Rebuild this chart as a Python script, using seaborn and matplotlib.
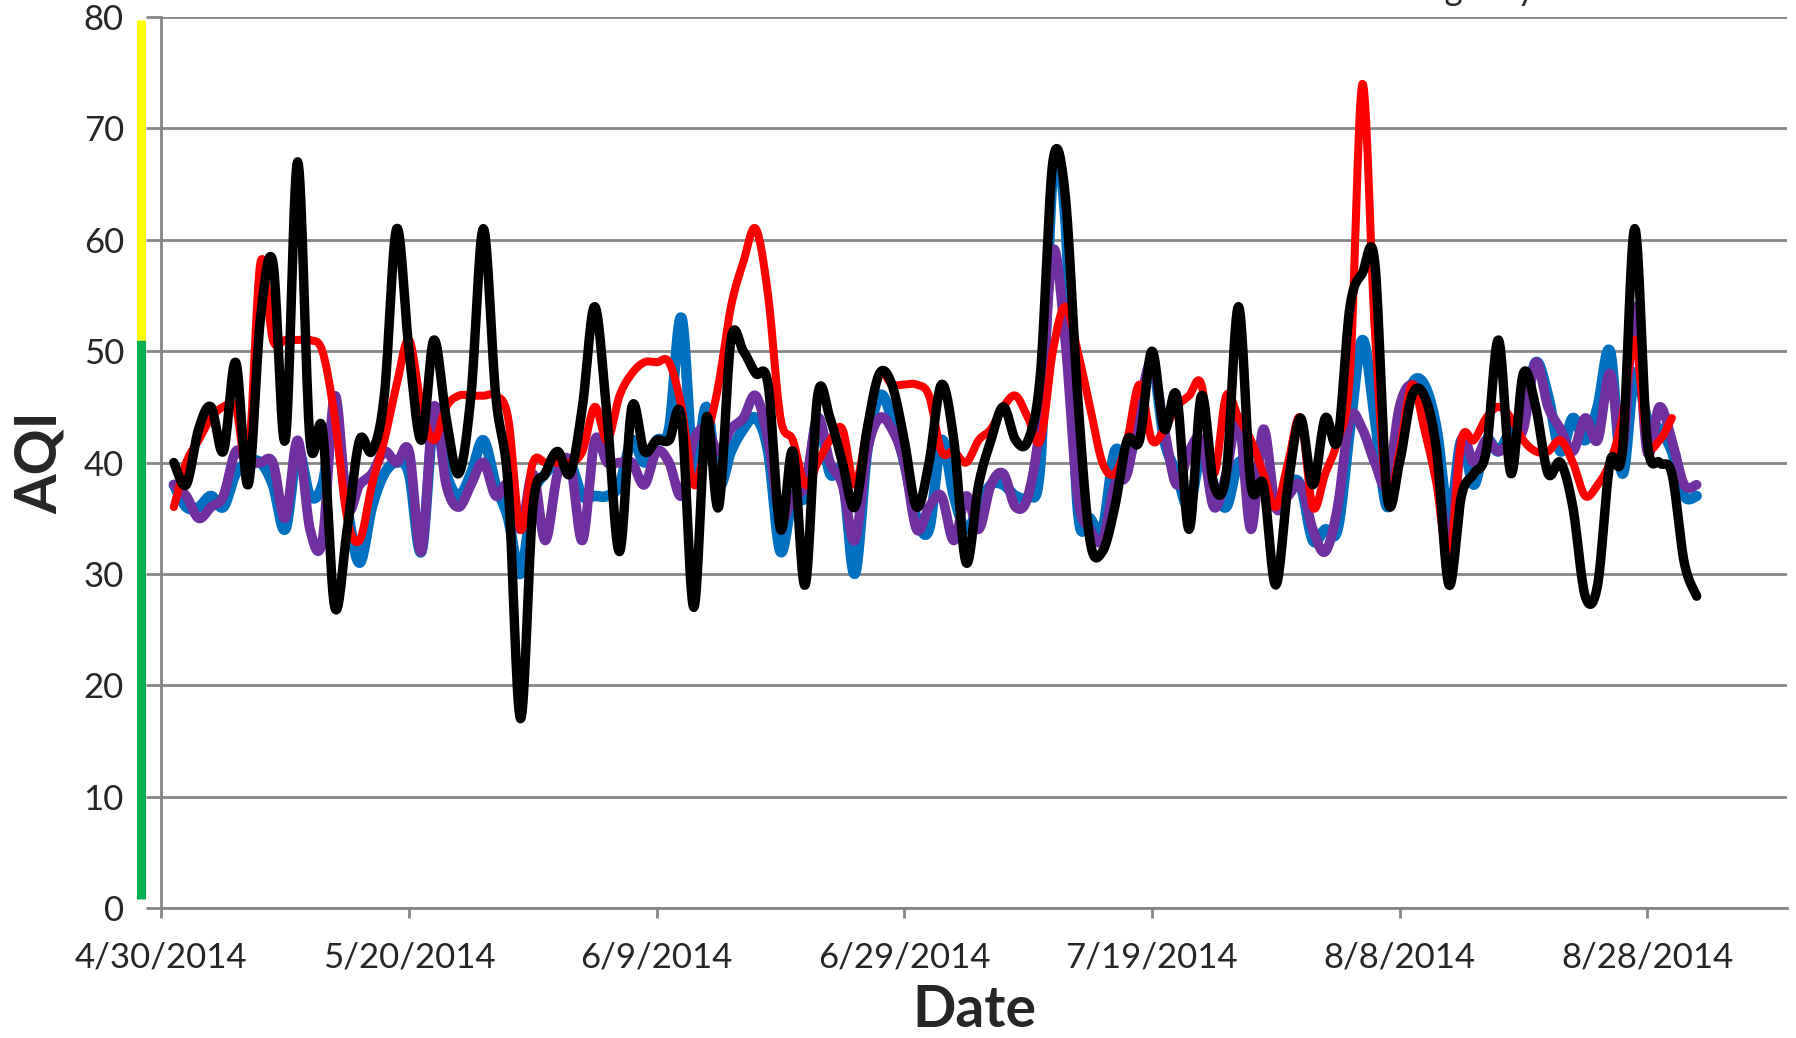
#####################################################################
############################### LIB's ###############################
#####################################################################

import numpy as np
import pandas as pd
import matplotlib
matplotlib.use('Agg')
import matplotlib.pyplot as plt
import matplotlib.transforms as mtransforms
import seaborn as sb


#####################################################################
############################## DADOS ################################
#####################################################################

# daily AQI, first value = 5/1/2014
azul = [38, 36, 36, 37, 36, 39, 40, 40, 38, 34,
        41, 37, 38, 44, 36, 31, 36, 39, 40, 39,
        32, 44, 39, 37, 39, 42, 38, 35, 30, 37,
        39, 40, 40, 37, 37, 37, 38, 42, 40, 42,
        43, 53, 39, 45, 38, 41, 43, 44, 41, 32,
        37, 37, 44, 39, 39, 30, 41, 46, 44, 40,
        35, 34, 42, 37, 34, 36, 38, 38, 37, 37,
        40, 66, 62, 36, 35, 34, 41, 40, 44, 49,
        42, 39, 36, 41, 38, 36, 40, 39, 38, 36,
        38, 38, 33, 34, 34, 43, 51, 44, 36, 42,
        47, 47, 43, 35, 42, 38, 42, 41, 43, 44,
        49, 46, 41, 44, 42, 45, 50, 39, 48, 44,
        43, 41, 37, 37]

roxo = [38, 37, 35, 36, 37, 41, 40, 40, 40, 35,
        42, 34, 33, 46, 36, 38, 39, 41, 40, 41,
        32, 45, 38, 36, 38, 40, 37, 38, 34, 39,
        33, 39, 40, 33, 42, 40, 40, 40, 38, 41,
        40, 37, 42, 43, 41, 43, 44, 46, 42, 35,
        37, 38, 44, 40, 38, 33, 41, 44, 43, 40,
        34, 36, 37, 33, 37, 34, 38, 39, 36, 37,
        44, 59, 51, 37, 34, 33, 38, 39, 45, 49,
        43, 38, 41, 42, 36, 39, 44, 34, 43, 36,
        37, 38, 34, 32, 36, 44, 43, 40, 38, 45,
        47, 45, 40, 32, 42, 40, 42, 41, 42, 43,
        49, 45, 43, 41, 44, 42, 48, 41, 54, 41,
        45, 42, 38, 38]

vermelho = [36, 40, 42, 44, 45, 45, 40, 58, 51, 51,
            51, 51, 50, 44, 35, 33, 38, 42, 47, 51,
            45, 42, 45, 46, 46, 46, 46, 44, 34, 40,
            40, 40, 40, 41, 45, 42, 46, 48, 49, 49,
            49, 45, 38, 42, 47, 54, 58, 61, 55, 44,
            42, 38, 40, 42, 43, 38, 43, 48, 47, 47,
            47, 46, 41, 41, 40, 42, 43, 45, 46, 44,
            42, 50, 54, 50, 45, 40, 39, 42, 47, 42,
            43, 45, 46, 47, 39, 46, 44, 42, 39, 36,
            40, 44, 36, 39, 42, 48, 74, 52, 37, 41,
            47, 43, 38, 31, 42, 42, 44, 45, 44, 42,
            41, 41, 42, 40, 37, 38, 40, 44, 51, 42,
            42, 44]

preto = [40, 38, 43, 45, 41, 49, 38, 53, 58, 42,
         67, 42, 43, 27, 34, 42, 41, 46, 61, 50,
         42, 51, 44, 39, 46, 61, 46, 38, 17, 36,
         39, 41, 39, 45, 54, 44, 32, 45, 41, 42,
         42, 44, 27, 44, 36, 51, 50, 48, 47, 34,
         41, 29, 46, 44, 40, 36, 43, 48, 47, 42,
         36, 40, 47, 42, 31, 38, 42, 45, 42, 42,
         48, 67, 64, 46, 33, 32, 36, 42, 42, 50,
         43, 46, 34, 46, 38, 39, 54, 38, 38, 29,
         38, 44, 38, 44, 42, 54, 57, 58, 37, 40,
         46, 46, 41, 29, 37, 39, 41, 51, 39, 48,
         45, 39, 40, 36, 28, 29, 40, 41, 61, 42,
         40, 39, 31, 28]

series = [('azul', azul, '#0070C0', 7.6),
          ('roxo', roxo, '#7030A0', 7.0),
          ('vermelho', vermelho, '#FF0000', 5.8),
          ('preto', preto, '#000000', 6.8)]

# AQI category bar (good / moderate)
faixa_cores = ['#00B050', '#FFFF00']
faixa_lim = [(0.8, 51), (51, 79.7)]

inicio_eixo = pd.Timestamp('2014-04-30')
inicio_dados = pd.Timestamp('2014-05-01')
ticks_dias = [0, 20, 40, 60, 80, 100, 120]


#####################################################################
######################## SUAVIZACAO (EXCEL) #########################
#####################################################################

def suaviza(x, y, n=16):
    P = np.column_stack([x, y]).astype(float)
    Pp = np.vstack([P[0], P, P[-1]])
    t = np.linspace(0, 1, n, endpoint=False)[:, None]
    partes = []
    for i in range(len(P) - 1):
        p0, p1, p2, p3 = Pp[i], Pp[i + 1], Pp[i + 2], Pp[i + 3]
        c1 = p1 + (p2 - p0) / 6
        c2 = p2 - (p3 - p1) / 6
        partes.append((1 - t) ** 3 * p1 + 3 * (1 - t) ** 2 * t * c1 + 3 * (1 - t) * t ** 2 * c2 + t ** 3 * p2)
    partes.append(P[-1:])
    B = np.vstack(partes)
    return B[:, 0], B[:, 1]


#####################################################################
############################# GRAFICO ###############################
#####################################################################

sb.set_style('white')
plt.rcParams['font.family'] = ['Lato', 'DejaVu Sans']

fig = plt.figure(figsize=(17.96, 10.38), dpi=100)
ax = fig.add_axes([0.0899, 0.1252, 0.9051, 0.8584])

cinza = '#868686'

for nome, valores, cor, lw in series:
    datas = pd.date_range(inicio_dados, periods=len(valores), freq='D')
    dias = (datas - inicio_eixo).days.values
    xs, ys = suaviza(dias, valores)
    df = pd.DataFrame({'dia': xs, 'aqi': ys})
    sb.lineplot(data=df, x='dia', y='aqi', color=cor, ax=ax,
                sort=False, estimator=None)
    linha = ax.lines[-1]
    linha.set_linewidth(lw)
    linha.set_solid_capstyle('round')
    linha.set_solid_joinstyle('round')

ax.set_xlim(0, 131.3)
ax.set_ylim(0, 80)
ax.set_yticks(range(0, 81, 10))
ax.set_xticks(ticks_dias)
ax.set_xticklabels([f'{d.month}/{d.day}/{d.year}' for d in [inicio_eixo + pd.Timedelta(days=k) for k in ticks_dias]])

ax.grid(axis='y', color=cinza, lw=2.0)
ax.grid(axis='x', visible=False)
ax.set_axisbelow(True)

for lado in ['top', 'right']:
    ax.spines[lado].set_visible(False)
for lado in ['left', 'bottom']:
    ax.spines[lado].set_color(cinza)
    ax.spines[lado].set_linewidth(2.0)

ax.tick_params(axis='y', direction='out', length=11, width=2.0, color=cinza, pad=16, labelsize=25, left=True)
ax.tick_params(axis='x', direction='out', length=7, width=2.0, color=cinza, pad=17, labelsize=25, bottom=True)

ax.set_xlabel('Date', fontsize=41, fontweight='bold')
ax.set_ylabel('AQI', fontsize=41, fontweight='bold')
ax.xaxis.set_label_coords(0.5, -0.085)
ax.yaxis.set_label_coords(-0.058, 0.5)

# barra de categorias do AQI, ao lado do eixo y
trans = mtransforms.blended_transform_factory(ax.transAxes, ax.transData)
for cor, (y0, y1) in zip(faixa_cores, faixa_lim):
    ax.plot([-0.0126, -0.0126], [y0, y1], color=cor, lw=6.5, transform=trans,
            clip_on=False, solid_capstyle='butt')

# texto cortado no topo
fig.text(0.855, 1.0, 'Agency', ha='right', va='baseline', fontsize=25)

plt.savefig('out.png', dpi=100)
